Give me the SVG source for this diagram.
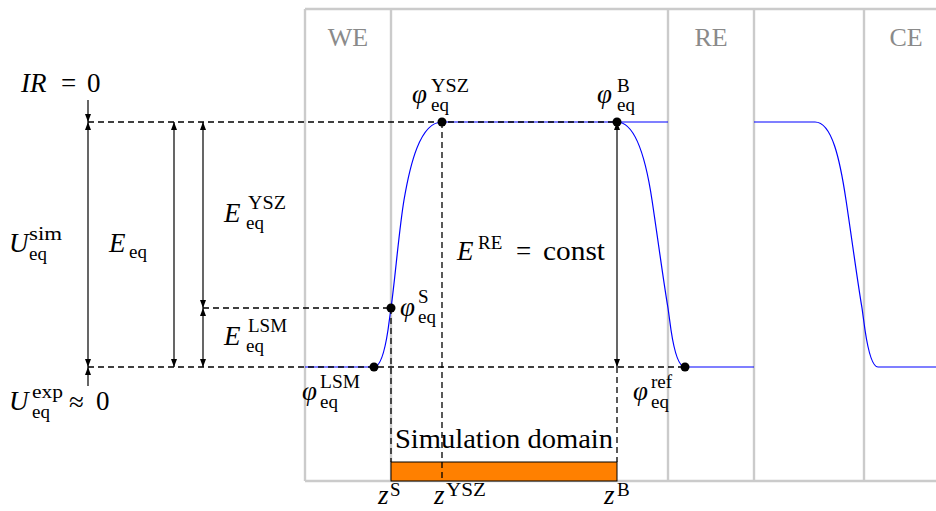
<svg xmlns="http://www.w3.org/2000/svg" width="936" height="511" viewBox="0 0 936 511">
<style>
.frame{stroke:#cbcbcb;stroke-width:2.4;fill:none}
.zone{font-family:'Liberation Serif','Times New Roman','DejaVu Serif',serif;font-size:26px;fill:#8a8a8a}
.blue{stroke:#0000ff;stroke-width:1.2;fill:none}
.dash{stroke:#000;stroke-width:1.3;stroke-dasharray:6 4;fill:none}
.arr{stroke:#000;stroke-width:1.2;fill:none;marker-end:url(#ah)}
.arr2{stroke:#000;stroke-width:1.2;fill:none;marker-start:url(#ah);marker-end:url(#ah)}
.dot{fill:#000}
.m{font-family:'Liberation Serif','Times New Roman','DejaVu Serif',serif;font-size:27px;font-style:italic;fill:#000}
.r{font-family:'Liberation Serif','Times New Roman','DejaVu Serif',serif;font-size:27px;fill:#000}
.s{font-family:'Liberation Serif','Times New Roman','DejaVu Serif',serif;font-size:19px;fill:#000}
</style>
<defs>
<marker id="ah" viewBox="0 0 8 6" refX="8" refY="3" markerWidth="8" markerHeight="6" markerUnits="userSpaceOnUse" orient="auto-start-reverse">
<path d="M0,0 L8,3 L0,6 z" fill="#000"/>
</marker>
</defs>

<g id="frame">
<line class="frame" x1="305" y1="9" x2="936" y2="9"/>
<line class="frame" x1="305" y1="481" x2="936" y2="481"/>
<line class="frame" x1="305" y1="9" x2="305" y2="481"/>
<line class="frame" x1="391" y1="9" x2="391" y2="481"/>
<line class="frame" x1="668" y1="9" x2="668" y2="481"/>
<line class="frame" x1="754" y1="9" x2="754" y2="481"/>
<line class="frame" x1="864" y1="9" x2="864" y2="481"/>
<text class="zone" x="348" y="46" text-anchor="middle">WE</text>
<text class="zone" x="711" y="46" text-anchor="middle">RE</text>
<text class="zone" x="906" y="46" text-anchor="middle">CE</text>
</g>

<g id="potential-curve">
<path class="blue" d="M305,367 L374,367 C381,367 385,350 388,330 L391,308 C395,280 399,230 404,200 C410,165 420,122 442,122 L668,122"/>
<path class="blue" d="M617,122 C636,122 646,160 652,200 C658,240 664,285 668,308 L671,330 C674,350 678,367 685,367 L754,367"/>
<path class="blue" d="M754,122 L815,122 C832,122 840,160 846,200 C852,240 858,285 862,308 L865,330 C868,350 872,367 878,367 L936,367"/>
</g>

<g id="connectors">
<line class="dash" x1="88" y1="122" x2="617" y2="122"/>
<line class="dash" x1="88" y1="367" x2="686" y2="367"/>
<line class="dash" x1="203" y1="308" x2="391" y2="308"/>
<line class="dash" x1="391" y1="308" x2="391" y2="462"/>
<line class="dash" x1="617" y1="367" x2="617" y2="462"/>
<line class="arr" x1="88" y1="100" x2="88" y2="122"/>
<line class="arr" x1="88" y1="386" x2="88" y2="367"/>
<line class="arr2" x1="88" y1="122" x2="88" y2="367"/>
<line class="arr2" x1="174" y1="122" x2="174" y2="367"/>
<line class="arr2" x1="203" y1="122" x2="203" y2="308"/>
<line class="arr2" x1="203" y1="308" x2="203" y2="367"/>
<line class="arr2" x1="617" y1="122" x2="617" y2="367"/>
</g>

<g id="simulation-domain">
<rect x="391" y="462" width="226" height="19" fill="#ff8000" stroke="#000" stroke-width="1"/>
<line class="dash" x1="442" y1="122" x2="442" y2="481"/>
<text class="r" x="395" y="448" textLength="218" lengthAdjust="spacingAndGlyphs">Simulation domain</text>
</g>

<g id="points">
<circle class="dot" cx="374" cy="367" r="4.5"/>
<circle class="dot" cx="391" cy="308" r="4.5"/>
<circle class="dot" cx="442" cy="122" r="4.5"/>
<circle class="dot" cx="617" cy="122" r="4.5"/>
<circle class="dot" cx="685" cy="367" r="4.5"/>
</g>

<g id="label-IR">
<text class="m" x="21" y="92">IR</text>
<text class="r" x="61" y="92">=</text>
<text class="r" x="87" y="92">0</text>
</g>
<g id="label-Usim">
<text class="m" x="9" y="252">U</text>
<text class="s" x="29" y="240" textLength="33" lengthAdjust="spacingAndGlyphs">sim</text>
<text class="s" x="29" y="260">eq</text>
</g>
<g id="label-Eeq">
<text class="m" x="109" y="252">E</text>
<text class="s" x="129" y="258">eq</text>
</g>
<g id="label-EYSZ">
<text class="m" x="224" y="222">E</text>
<text class="s" x="248" y="209" textLength="38" lengthAdjust="spacingAndGlyphs">YSZ</text>
<text class="s" x="246" y="229">eq</text>
</g>
<g id="label-ELSM">
<text class="m" x="224" y="345">E</text>
<text class="s" x="248" y="332" textLength="39" lengthAdjust="spacingAndGlyphs">LSM</text>
<text class="s" x="246" y="352">eq</text>
</g>
<g id="label-Uexp">
<text class="m" x="9" y="410">U</text>
<text class="s" x="32" y="398" textLength="31" lengthAdjust="spacingAndGlyphs">exp</text>
<text class="s" x="32" y="418">eq</text>
<text class="r" x="69" y="411" font-size="31">≈</text>
<text class="r" x="96" y="410">0</text>
</g>
<g id="label-phiYSZ">
<text class="m" x="412" y="103">φ</text>
<text class="s" x="431" y="92" textLength="38" lengthAdjust="spacingAndGlyphs">YSZ</text>
<text class="s" x="431" y="111">eq</text>
</g>
<g id="label-phiB">
<text class="m" x="597" y="103">φ</text>
<text class="s" x="617" y="92">B</text>
<text class="s" x="617" y="111">eq</text>
</g>
<g id="label-phiS">
<text class="m" x="400" y="316">φ</text>
<text class="s" x="418" y="303">S</text>
<text class="s" x="418" y="323">eq</text>
</g>
<g id="label-phiLSM">
<text class="m" x="302" y="400">φ</text>
<text class="s" x="320" y="388" textLength="40" lengthAdjust="spacingAndGlyphs">LSM</text>
<text class="s" x="320" y="408">eq</text>
</g>
<g id="label-phiref">
<text class="m" x="633" y="400">φ</text>
<text class="s" x="651" y="388">ref</text>
<text class="s" x="651" y="408">eq</text>
</g>
<g id="label-ERE">
<text class="m" x="457" y="260">E</text>
<text class="s" x="478" y="249">RE</text>
<text class="r" x="516" y="260">=</text>
<text class="r" x="543" y="260" textLength="62" lengthAdjust="spacingAndGlyphs">const</text>
</g>
<g id="label-zS">
<text class="m" x="378" y="504">z</text>
<text class="s" x="390" y="496">S</text>
</g>
<g id="label-zYSZ">
<text class="m" x="434" y="504">z</text>
<text class="s" x="446" y="496" textLength="40" lengthAdjust="spacingAndGlyphs">YSZ</text>
</g>
<g id="label-zB">
<text class="m" x="604" y="504">z</text>
<text class="s" x="617" y="496">B</text>
</g>
</svg>
